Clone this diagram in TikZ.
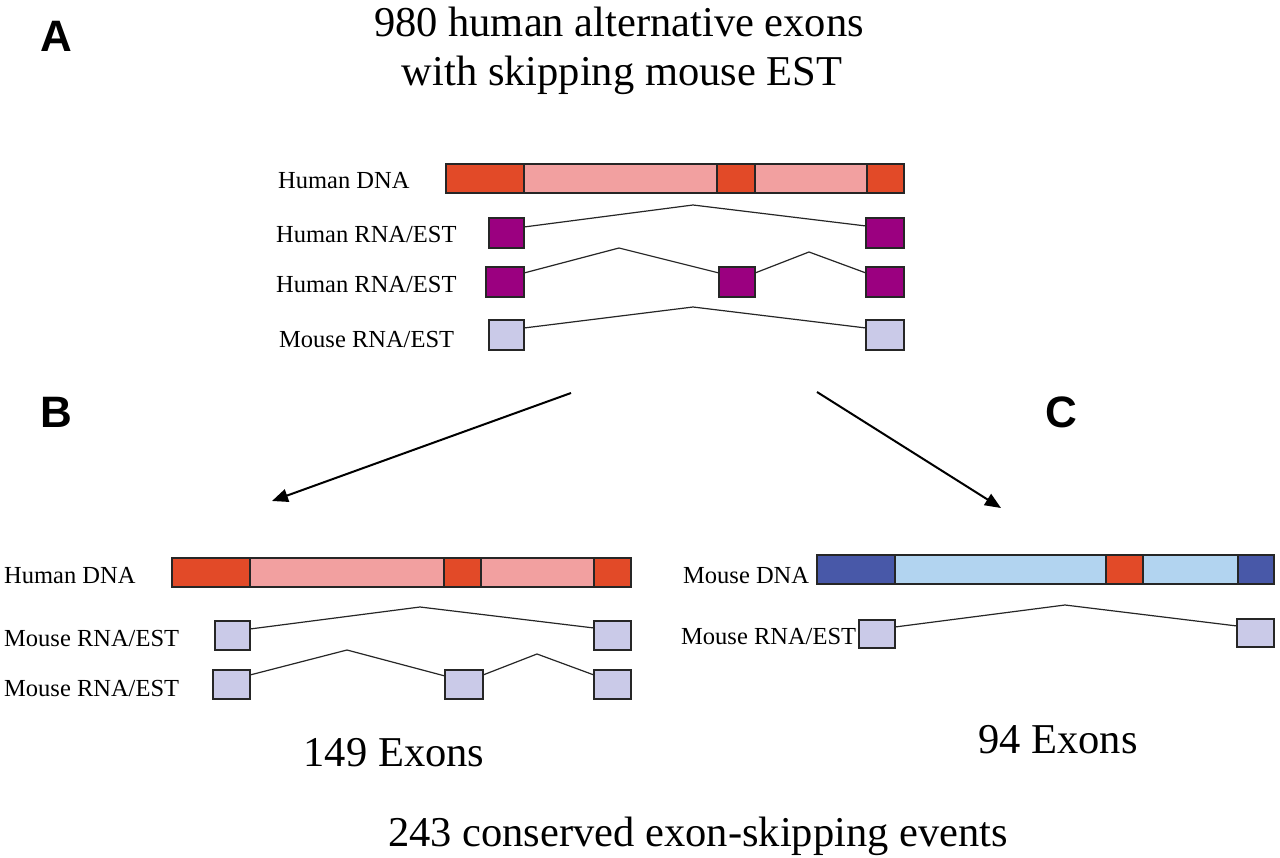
\documentclass[tikz,border=0pt]{standalone}
\usepackage{fontspec}
\setmainfont{Liberation Serif}
\newfontfamily\panelfont{Liberation Sans}
\usetikzlibrary{arrows.meta}
\definecolor{exdark}{RGB}{226,74,40}
\definecolor{inpink}{RGB}{242,160,160}
\definecolor{hpurple}{RGB}{155,0,128}
\definecolor{mlav}{RGB}{202,202,232}
\definecolor{mblue}{RGB}{72,88,168}
\definecolor{lblue}{RGB}{178,212,240}
\newcommand\exseg[6]{\node[seg, fill=#6, minimum width={#4-#2}, minimum height={#5-#3}] (#1) at (#2,#3) {};}
\begin{document}
\begin{tikzpicture}[x=1pt,y=-1pt,
  seg/.style={draw=black!85, line width=1.2pt, inner sep=0pt, outer sep=0pt, anchor=north west},
  lbl/.style={anchor=base west, inner sep=0pt, font=\fontsize{24.5}{29}\selectfont},
  big/.style={anchor=base, inner sep=0pt, font=\fontsize{42.5}{50}\selectfont},
  panel/.style={anchor=base west, inner sep=0pt, font=\panelfont\bfseries\fontsize{44}{50}\selectfont},
  splice/.style={draw=black!85, line width=1.2pt},
  bigarrow/.style={draw=black, line width=2pt, -{Triangle[length=16pt,width=13pt]}}
]
\useasboundingbox (0,0) rectangle (1280,858);
\fill[white] (0,0) rectangle (1280,858);

% titles and panel letters
\node[panel] (lA) at (40,52) {A};
\node[panel] (lB) at (40,428) {B};
\node[panel] (lC) at (1045,428) {C};
\node[big] (t1) at (619,37) {980 human alternative exons};
\node[big] (t2) at (622,86) {with skipping mouse EST};
\node[big] (t3) at (394,766) {149 Exons};
\node[big] (t4) at (1058,753) {94 Exons};
\node[big] (t5) at (698,846) {243 conserved exon-skipping events};

% ---------- Panel A ----------
\node[lbl] (aL1) at (278,189) {Human DNA};
\node[lbl] (aL2) at (276,243) {Human RNA/EST};
\node[lbl] (aL3) at (276,293) {Human RNA/EST};
\node[lbl] (aL4) at (279,348) {Mouse RNA/EST};
\exseg{hA1}{446}{164}{524}{193}{exdark}
\exseg{hA2}{524}{164}{717}{193}{inpink}
\exseg{hA3}{717}{164}{755}{193}{exdark}
\exseg{hA4}{755}{164}{867}{193}{inpink}
\exseg{hA5}{867}{164}{904}{193}{exdark}
\exseg{r1a}{489}{218}{524}{248}{hpurple}
\exseg{r1b}{866}{218}{904}{248}{hpurple}
\exseg{r2a}{486}{267}{524}{297}{hpurple}
\exseg{r2b}{719}{267}{755}{297}{hpurple}
\exseg{r2c}{866}{267}{904}{297}{hpurple}
\exseg{m1a}{489}{320}{524}{350}{mlav}
\exseg{m1b}{866}{320}{904}{350}{mlav}
\coordinate (p1) at (693,205);
\coordinate (p2) at (619,248);
\coordinate (p3) at (809,252);
\coordinate (p4) at (693,307);
\draw[splice] ([yshift=-9pt]r1a.north east) -- (p1) -- ([yshift=-8pt]r1b.north west);
\draw[splice] ([yshift=-6pt]r2a.north east) -- (p2) -- ([yshift=-6pt]r2b.north west);
\draw[splice] ([yshift=-6pt]r2b.north east) -- (p3) -- ([yshift=-6pt]r2c.north west);
\draw[splice] ([yshift=-8pt]m1a.north east) -- (p4) -- ([yshift=-8pt]m1b.north west);

% arrows
\coordinate (a1s) at (571,393);
\coordinate (a1e) at (272,501);
\coordinate (a2s) at (817,392);
\coordinate (a2e) at (1001,508);
\draw[bigarrow] (a1s) -- (a1e);
\draw[bigarrow] (a2s) -- (a2e);

% ---------- Panel B ----------
\node[lbl] (bL1) at (4,583) {Human DNA};
\node[lbl] (bL2) at (4,646) {Mouse RNA/EST};
\node[lbl] (bL3) at (4,696) {Mouse RNA/EST};
\exseg{hB1}{172}{558}{250}{587}{exdark}
\exseg{hB2}{250}{558}{444}{587}{inpink}
\exseg{hB3}{444}{558}{481}{587}{exdark}
\exseg{hB4}{481}{558}{594}{587}{inpink}
\exseg{hB5}{594}{558}{631}{587}{exdark}
\exseg{b1a}{215}{621}{250}{650}{mlav}
\exseg{b1b}{594}{621}{631}{650}{mlav}
\exseg{b2a}{213}{670}{250}{699}{mlav}
\exseg{b2b}{445}{670}{483}{699}{mlav}
\exseg{b2c}{594}{670}{631}{699}{mlav}
\coordinate (q1) at (420,607);
\coordinate (q2) at (347,650);
\coordinate (q3) at (537,654);
\draw[splice] ([yshift=-8pt]b1a.north east) -- (q1) -- ([yshift=-7pt]b1b.north west);
\draw[splice] ([yshift=-5pt]b2a.north east) -- (q2) -- ([yshift=-6pt]b2b.north west);
\draw[splice] ([yshift=-5pt]b2b.north east) -- (q3) -- ([yshift=-5pt]b2c.north west);

% ---------- Panel C ----------
\node[lbl] (cL1) at (683,583) {Mouse DNA};
\node[lbl] (cL2) at (681,644) {Mouse RNA/EST};
\exseg{mC1}{817}{555}{895}{584}{mblue}
\exseg{mC2}{895}{555}{1106}{584}{lblue}
\exseg{mC3}{1106}{555}{1143}{584}{exdark}
\exseg{mC4}{1143}{555}{1238}{584}{lblue}
\exseg{mC5}{1238}{555}{1274}{584}{mblue}
\exseg{c1a}{859}{620}{895}{648}{mlav}
\exseg{c1b}{1237}{619}{1274}{647}{mlav}
\coordinate (s1) at (1065,605);
\draw[splice] ([yshift=-7pt]c1a.north east) -- (s1) -- ([yshift=-7pt]c1b.north west);
\end{tikzpicture}
\end{document}
